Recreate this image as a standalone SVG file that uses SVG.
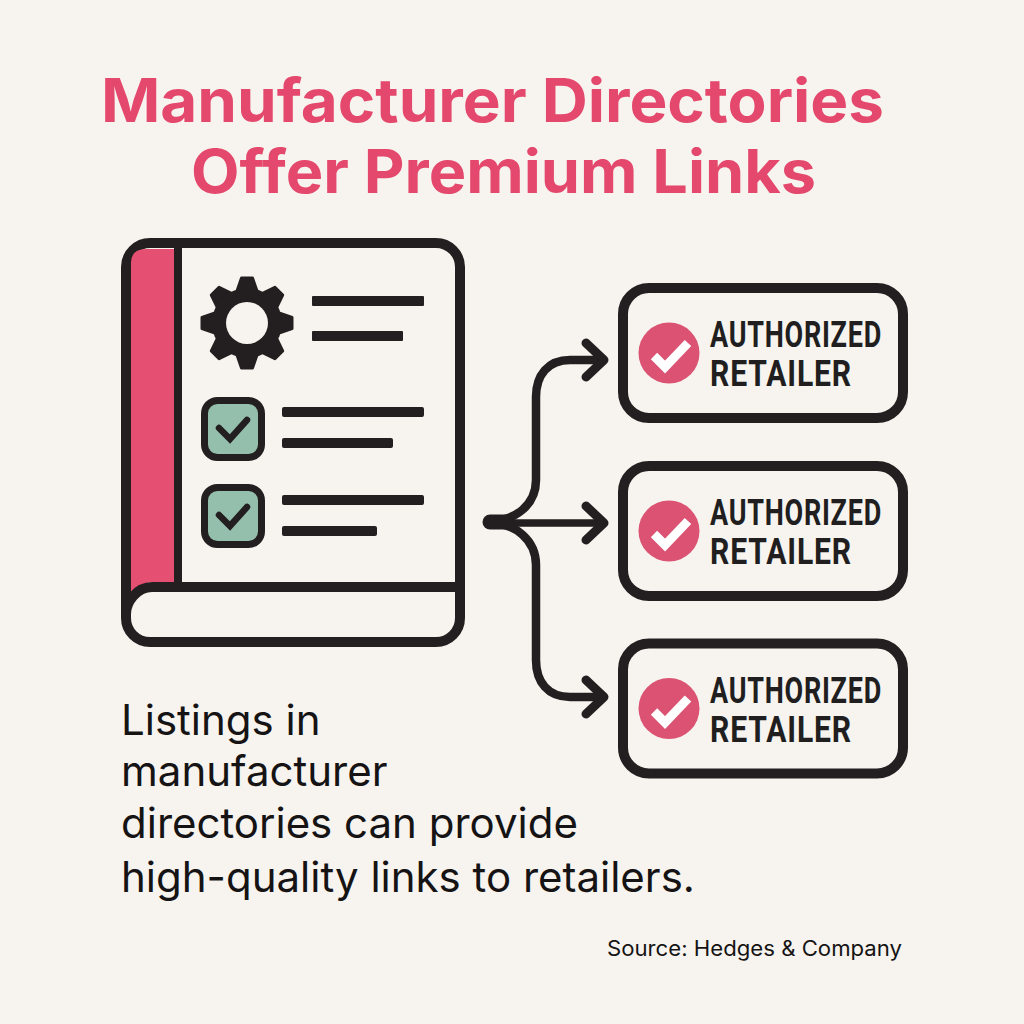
<svg xmlns="http://www.w3.org/2000/svg" width="1024" height="1024" viewBox="0 0 1024 1024">
<style>
.title{font-family:Inter,"Liberation Sans",sans-serif;font-weight:700;font-size:60px;fill:#E4486C}
.body{font-family:Inter,"Liberation Sans",sans-serif;font-size:42px;fill:#151314}
.src{font-family:Inter,"Liberation Sans",sans-serif;font-size:21px;fill:#151314}
.lbl{font-family:Roboto,"Liberation Sans",sans-serif;font-weight:700;font-size:36px;fill:#211e1f;letter-spacing:1px}
.ink{fill:#231f20}
.o{fill:none;stroke:#231f20;stroke-linecap:round;stroke-linejoin:round}
.card{fill:#F7F4EF;stroke:#231f20;stroke-width:10}
.box{fill:#95BFAD;stroke:#231f20;stroke-width:7}
.tick{fill:none;stroke:#231f20;stroke-width:6.500;stroke-linecap:round;stroke-linejoin:miter}
.wt{fill:none;stroke:#fff;stroke-width:9;stroke-linejoin:miter}
</style>
<defs>
<polygon id="tooth" points="-10,-32 -5.500,-45 5.500,-45 10,-32" fill="#231f20" stroke="#231f20" stroke-width="3" stroke-linejoin="round"/>
<g id="badge">
<rect class="card" x="623" y="288" width="280" height="130" rx="26"/>
<circle cx="669" cy="353" r="30.500" fill="#DB5273"/>
<path class="wt" d="M654 356L665 367L688 343"/>
<text class="lbl" x="710" y="347" textLength="172" lengthAdjust="spacingAndGlyphs">AUTHORIZED</text>
<text class="lbl" x="710" y="386" textLength="142" lengthAdjust="spacingAndGlyphs">RETAILER</text>
</g>
</defs>
<rect width="1024" height="1024" fill="#F7F4EF"/>
<g id="title">
<text class="title" x="101" y="122" textLength="783" lengthAdjust="spacingAndGlyphs">Manufacturer Directories</text>
<text class="title" x="191" y="193" textLength="625" lengthAdjust="spacingAndGlyphs">Offer Premium Links</text>
</g>
<g id="book">
<rect x="126" y="243" width="334" height="399" rx="24" fill="#F7F4EF" stroke="#231f20" stroke-width="10"/>
<path d="M131 592V263Q131 249 146 249H174V582H152Q140 583 131 592Z" fill="#E54F72"/>
<path d="M178 244V587" stroke="#231f20" stroke-width="8" fill="none"/>
<path d="M456 587H152C137 587 126 602 126 614" fill="none" stroke="#231f20" stroke-width="10"/>
<g id="gear">
<g transform="translate(247 323)">
<use href="#tooth"/>
<use href="#tooth" transform="rotate(45)"/>
<use href="#tooth" transform="rotate(90)"/>
<use href="#tooth" transform="rotate(135)"/>
<use href="#tooth" transform="rotate(180)"/>
<use href="#tooth" transform="rotate(225)"/>
<use href="#tooth" transform="rotate(270)"/>
<use href="#tooth" transform="rotate(315)"/>
<circle r="35" fill="#231f20"/>
<circle r="21" fill="#F7F4EF"/>
</g>
</g>
<g class="ink">
<rect x="312" y="296" width="112" height="10" rx="1"/>
<rect x="312" y="331" width="91" height="10" rx="1"/>
<rect x="282" y="407" width="142" height="10" rx="2"/>
<rect x="282" y="438" width="111" height="10" rx="2"/>
<rect x="282" y="495" width="142" height="10" rx="2"/>
<rect x="282" y="526" width="95" height="10" rx="2"/>
</g>
<g id="check1">
<rect class="box" x="204.500" y="400.500" width="57" height="57" rx="13"/>
<path class="tick" d="M219 428L230 439L247 420"/>
</g>
<g id="check2">
<rect class="box" x="204.500" y="487.500" width="57" height="57" rx="13"/>
<path class="tick" d="M219 515L230 526L247 507"/>
</g>
</g>
<g id="connectors">
<path class="o" stroke-width="8.500" d="M490 521C515 521 536 505 536 480V397C536 375 548 360 570 360H602"/>
<path class="o" stroke-width="8.500" d="M490 523C515 523 536 540 536 565V660C536 682 548 697 570 697H602"/>
<path class="o" stroke-width="7.500" d="M492 523H602"/>
<path d="M490 522H506" stroke="#231f20" stroke-width="15" stroke-linecap="round"/>
<path class="o" stroke-width="9" d="M586 343L604 360L586 377"/>
<path class="o" stroke-width="9" d="M586 506L604 523L586 540"/>
<path class="o" stroke-width="9" d="M586 680L604 697L586 714"/>
</g>
<g id="card1"><use href="#badge"/></g>
<g id="card2"><use href="#badge" y="178"/></g>
<g id="card3"><use href="#badge" y="355.500"/></g>
<g id="caption">
<text class="body" x="121" y="735">Listings in</text>
<text class="body" x="121" y="786">manufacturer</text>
<text class="body" x="121" y="838">directories can provide</text>
<text class="body" x="121" y="892">high-quality links to retailers.</text>
</g>
<text class="src" id="source" x="607" y="956" textLength="295" lengthAdjust="spacingAndGlyphs">Source: Hedges &amp; Company</text>
</svg>
